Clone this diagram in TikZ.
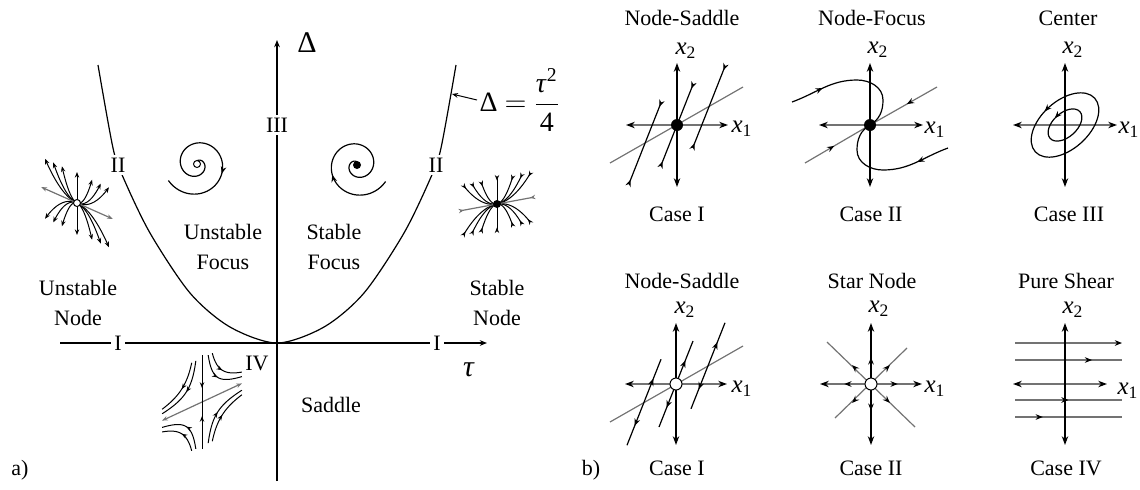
\documentclass[tikz,border=0pt]{standalone}
\usepackage{amsmath}
\usepackage{fontspec}
\setmainfont{Liberation Serif}
\usetikzlibrary{arrows.meta,decorations.markings}
\newcommand{\axlab}[1]{\textit{x}\textsubscript{#1}}

\begin{document}
\begin{tikzpicture}[x=0.5pt, y=0.5pt, line width=0.6pt,
  >={Stealth[length=3.6pt,width=2.8pt]},
  every node/.style={font=\fontsize{11}{15}\selectfont, inner sep=1pt},
  big/.style={font=\fontsize{15}{17}\selectfont},
  axname/.style={font=\fontsize{12.5}{14}\selectfont},
  tiny tips/.style={>={Stealth[length=2.8pt,width=2.2pt]}},
  label cut/.style={fill=white, inner sep=1.5pt},
  thin gray/.style={draw=black!55},
  x axis/.style={draw=black!55, {Stealth[length=4.4pt,width=3.2pt,color=black]}-{Stealth[length=4.4pt,width=3.2pt,color=black]}},
  y axis/.style={{Stealth[length=4.4pt,width=3.2pt]}-{Stealth[length=4.4pt,width=3.2pt]}},
  mid arrow/.style={postaction={decorate}, decoration={markings, mark=at position #1 with {\arrow[black]{>}}}},
  back arrow/.style={postaction={decorate}, decoration={markings, mark=at position #1 with {\arrowreversed[black]{>}}}},
  sink/.style={circle, fill=black, inner sep=0pt, minimum size=#1},
  source/.style={circle, draw, fill=white, inner sep=0pt, minimum size=#1, line width=0.5pt}]

\useasboundingbox (0,0) rectangle (1140,-489);

% a) trace-determinant plane
\draw[->] (60,-343) -- (487,-343);
\draw[->] (277,-481) -- (277,-40);
\draw plot[smooth] coordinates {(98,-65) (113,-148) (123,-177) (150,-233) (190,-293) (230,-327) (277,-343)
  (324,-327) (364,-293) (404,-233) (431,-177) (441,-148) (456,-65)};

\node[big] (delta) at (307,-43) {Δ};
\node[big] (tau) at (469,-370) {\textit{τ}};
\node[anchor=west, font=\fontsize{14}{16}\selectfont] (law) at (477,-100) {Δ $=$ $\dfrac{\text{\textit{τ}}^{\text{2}}}{\text{4}}$};
\coordinate (lawtip) at (452,-94);
\draw[-{Stealth[length=3pt,width=2.4pt]}, line width=0.5pt] (law.west) -- (lawtip);

\node[label cut] (III) at (277,-125) {III};
\node[label cut] (IIa) at (118,-165) {II};
\node[label cut] (IIb) at (436,-165) {II};
\node[label cut] (Ia) at (118,-343) {I};
\node[label cut] (Ib) at (437,-343) {I};
\node (IV) at (257,-363) {IV};
\node[align=center] (ufocus) at (223,-247) {Unstable\\Focus};
\node[align=center] (sfocus) at (334,-247) {Stable\\Focus};
\node[align=center] (unode) at (78,-303) {Unstable\\Node};
\node[align=center] (snode) at (497,-303) {Stable\\Node};
\node (saddle) at (331,-405) {Saddle};
\node (parta) at (20,-470) {a)};
\node (partb) at (591,-470) {b)};

% unstable node
\begin{scope}[shift={(77,-203)}, tiny tips]
  \foreach \U in {35,26,16.5}
    \foreach \su in {1,-1}
      \foreach \sv in {1,-1}
        \draw[->, line width=0.5pt] plot[domain=0:1, samples=12, smooth] ({\su*\U*\x*cos(-24)}, {\su*\U*\x*sin(-24)+\sv*30*\x*\x});
  \draw[<->, line width=0.5pt] (0,-32) -- (0,31);
  \draw[<->, thin gray] (156:39) -- (-24:39);
  \node[source=3.5pt] (usrc) at (0,0) {};
\end{scope}

% stable node
\begin{scope}[shift={(497,-204)}, tiny tips]
  \foreach \U in {35,26,16.5}
    \foreach \su in {1,-1}
      \foreach \sv in {1,-1}
        \draw[-<, line width=0.5pt] plot[domain=0:1, samples=12, smooth] ({\su*\U*\x*cos(10.5)}, {\su*\U*\x*sin(10.5)+\sv*26*\x*\x});
  \draw[>-<, line width=0.5pt] (0,-29) -- (0,29);
  \draw[>-<, thin gray] (190.5:39) -- (10.5:39);
  \node[sink=4pt] (ssnk) at (0,0) {};
\end{scope}

% unstable focus
\begin{scope}[shift={(197,-164)}, xscale=-1]
  \draw[back arrow=0.35] plot[domain=0:1, samples=120] ({(33-30*\x)*cos(-30-600*\x)}, {(33-30*\x)*sin(-30-600*\x)});
  \node[source=3.5pt] (fsrc) at (0,0) {};
\end{scope}

% stable focus
\begin{scope}[shift={(357,-165)}]
  \draw[mid arrow=0.35] plot[domain=0:1, samples=120] ({(33-30*\x)*cos(-30-600*\x)}, {(33-30*\x)*sin(-30-600*\x)});
  \node[sink=4pt] (fsnk) at (0,0) {};
\end{scope}

% saddle
\begin{scope}[shift={(202,-402)}, tiny tips]
  \foreach \su in {1,-1}
    \foreach \sv in {1,-1}
      \foreach \C in {300,500}
        \draw[line width=0.5pt, mid arrow=0.5] plot[domain=\C/44:44, samples=40] ({\su*\x*cos(25)}, {\su*\x*sin(25)+\sv*\C/\x});
  \draw[<->, thin gray] (205:44) -- (25:44);
  \draw[line width=0.5pt, mid arrow=0.7] (0,47) -- (0,0);
  \draw[line width=0.5pt, mid arrow=0.7] (0,-47) -- (0,0);
\end{scope}

% b) titles
\node (t1) at (682,-18) {Node-Saddle};
\node (t2) at (872,-18) {Node-Focus};
\node (t3) at (1068,-18) {Center};
\node (c1) at (677,-214) {Case I};
\node (c2) at (871,-214) {Case II};
\node (c3) at (1069,-214) {Case III};
\node (t4) at (682,-281) {Node-Saddle};
\node (t5) at (872,-281) {Star Node};
\node (t6) at (1066,-281) {Pure Shear};
\node (c4) at (677,-468) {Case I};
\node (c5) at (871,-468) {Case II};
\node (c6) at (1066,-468) {Case IV};

% Case I, stable
\begin{scope}[shift={(677,-125)}]
  \draw[thin gray] (-67,-38) -- (66,38);
  \draw[x axis] (-51,0) -- (51,0);
  \draw[y axis] (0,-62) -- (0,62);
  \foreach \c in {-32,0,32}{
    \draw[-<] (\c,{0.57*\c}) -- ++(17,43);
    \draw[-<] (\c,{0.57*\c}) -- ++(-17,-43);
  }
  \node[axname] (x2a) at (9,74) {\axlab{2}};
  \node[axname] (x1a) at (65,-4) {\axlab{1}};
  \node[sink=6pt] at (0,0) {};
\end{scope}

% Case II, node-focus
\begin{scope}[shift={(870,-125)}]
  \draw[thin gray, mid arrow=0.45] (-65,-38) -- (0,0);
  \draw[thin gray, mid arrow=0.45] (67,38) -- (0,0);
  \draw[x axis] (-51,0) -- (53,0);
  \draw[y axis] (0,-62) -- (0,62);
  \draw[mid arrow=0.25] (-78,23) to[out=20,in=180] (-13,45) to[out=0,in=90] (13,25) to[out=-90,in=30] (0,0);
  \draw[mid arrow=0.25] (78,-23) to[out=200,in=0] (13,-45) to[out=180,in=-90] (-13,-25) to[out=90,in=210] (0,0);
  \node[axname] (x2b) at (8,75) {\axlab{2}};
  \node[axname] (x1b) at (65,-5) {\axlab{1}};
  \node[sink=6pt] at (0,0) {};
\end{scope}

% Case III, center
\begin{scope}[shift={(1065,-125)}]
  \draw[x axis] (-52,0) -- (52,0);
  \draw[y axis] (0,-62) -- (0,62);
  \draw[mid arrow=0.28, rotate=42] (0,0) ellipse [x radius=40, y radius=24];
  \draw[mid arrow=0.28, rotate=42] (0,0) ellipse [x radius=20, y radius=12];
  \node[axname] (x2c) at (8,75) {\axlab{2}};
  \node[axname] (x1c) at (64,-5) {\axlab{1}};
\end{scope}

% Case I, unstable
\begin{scope}[shift={(676,-384)}]
  \draw[thin gray] (-66,-38) -- (67,38);
  \draw[x axis] (-51,0) -- (51,0);
  \draw[y axis] (0,-61) -- (0,61);
  \foreach \c in {-32,0,32}{
    \draw[mid arrow=0.55] (\c,{0.57*\c}) -- ++(17,43);
    \draw[mid arrow=0.55] (\c,{0.57*\c}) -- ++(-17,-43);
  }
  \node[axname] (x2d) at (9,74) {\axlab{2}};
  \node[axname] (x1d) at (66,-5) {\axlab{1}};
  \node[source=6pt] at (0,0) {};
\end{scope}

% Case II, star node
\begin{scope}[shift={(871,-384)}]
  \draw[thin gray] (-44,42) -- (44,-43);
  \draw[thin gray] (-36,-34) -- (36,36);
  \draw[x axis] (-51,0) -- (51,0);
  \draw[y axis] (0,-61) -- (0,61);
  \foreach \a in {0,45,...,315}
    \path[mid arrow=0.99] (0,0) -- (\a:27);
  \node[axname] (x2e) at (8,75) {\axlab{2}};
  \node[axname] (x1e) at (64,-5) {\axlab{1}};
  \node[source=6pt] at (0,0) {};
\end{scope}

% Case IV, pure shear
\begin{scope}[shift={(1065,-384)}]
  \draw[thin gray, -{Stealth[length=3.6pt,width=2.8pt,color=black]}] (-50,41) -- (57,41);
  \draw[thin gray, mid arrow=0.72] (-50,24) -- (57,24);
  \draw[thin gray, mid arrow=0.5] (-50,-16) -- (57,-16);
  \draw[thin gray, mid arrow=0.26] (-50,-33) -- (57,-33);
  \draw[x axis] (-52,0) -- (42,0);
  \draw[y axis] (0,-61) -- (0,61);
  \node[axname] (x2f) at (8,74) {\axlab{2}};
  \node[axname] (x1f) at (63,-7) {\axlab{1}};
\end{scope}

\end{tikzpicture}
\end{document}
